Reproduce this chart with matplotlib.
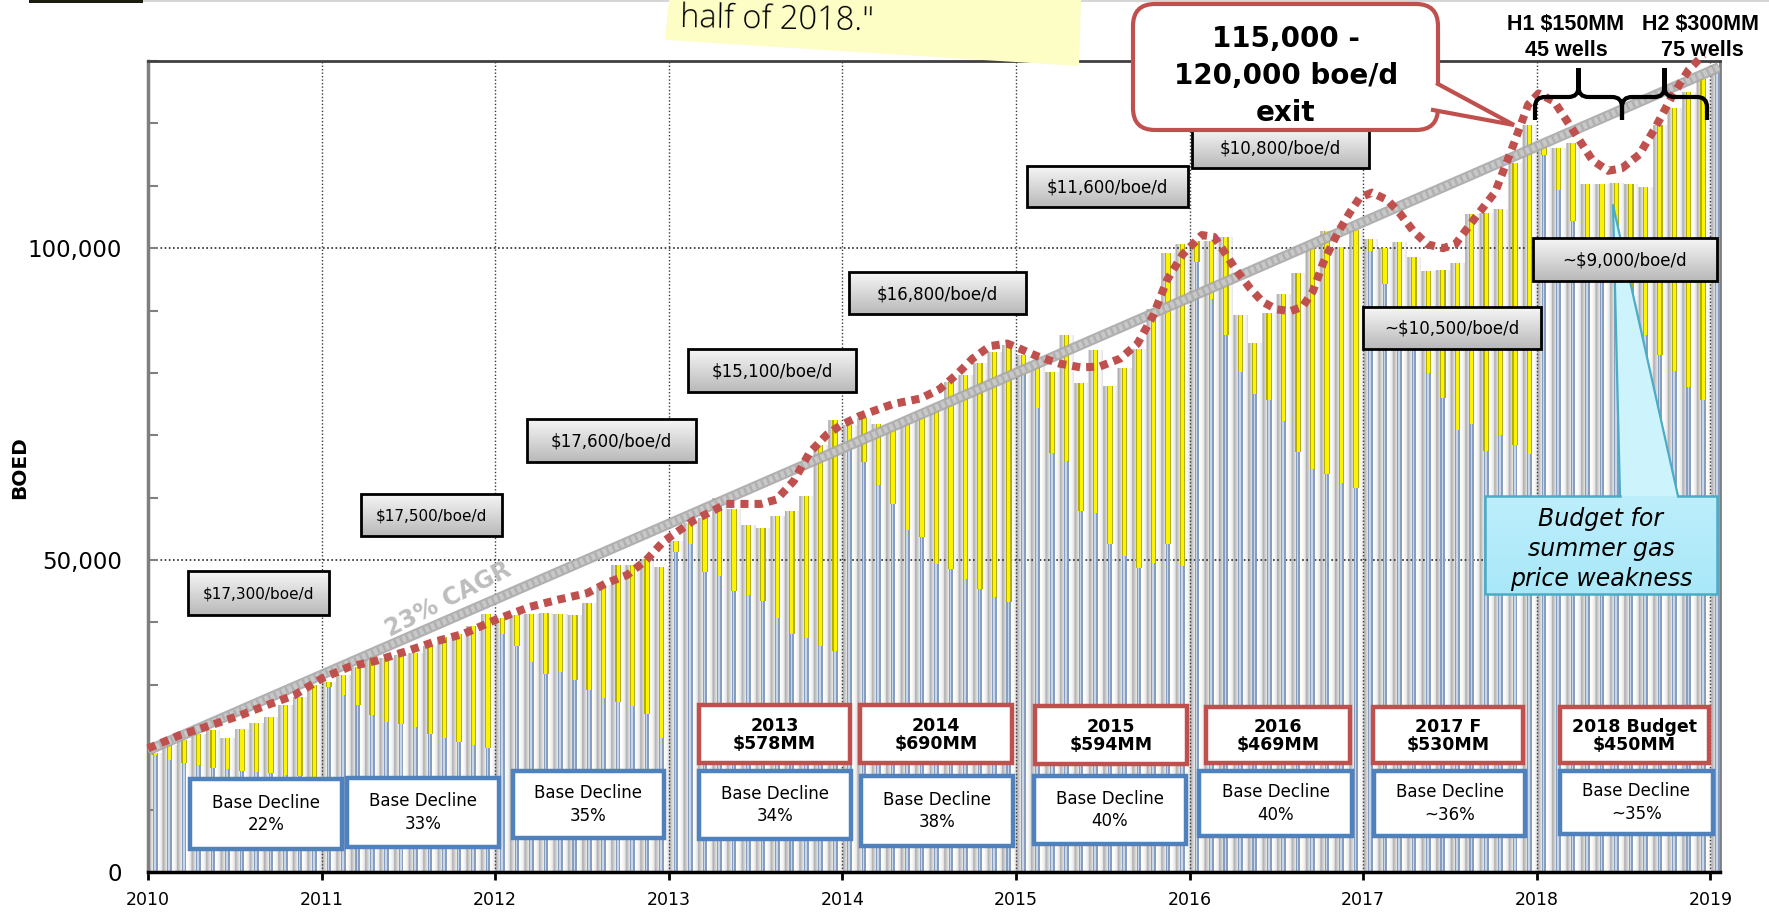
import numpy as np
import matplotlib
matplotlib.use("Agg")
import matplotlib.pyplot as plt
import matplotlib.colors as mcolors
from matplotlib.path import Path
from matplotlib.patches import Polygon, Rectangle, FancyBboxPatch, PathPatch

W, H, DPI = 1769, 914, 100

# ---------------------------------------------------------------- data
# Monthly production (boe/d), Jan 2010 ... Dec 2018, then Jan 2019
total_boed = [
    19000, 20400, 21100, 22200, 22700, 21400, 23000, 23900, 24800, 26700, 28000, 30000,       # 2010
    30400, 31500, 32900, 34600, 34300, 34800, 35100, 36200, 37700, 38200, 39500, 41400,       # 2011
    40700, 41200, 41300, 41500, 41400, 41200, 43100, 46000, 49200, 49200, 50200, 48900,       # 2012
    53100, 56000, 56700, 59900, 58200, 55600, 55100, 57100, 57800, 60300, 68500, 72500,       # 2013
    71600, 72800, 71800, 71500, 72000, 73000, 74500, 78600, 79600, 81600, 83300, 84500,       # 2014
    82800, 81500, 80100, 86000, 78400, 83700, 77900, 80800, 83900, 90300, 99200, 100700,      # 2015
    101200, 101200, 101800, 89300, 84800, 89600, 92600, 96000, 100000, 102800, 100200, 102900,  # 2016
    101400, 100000, 101000, 98600, 96300, 96500, 97600, 105500, 105600, 106200, 113700, 119700,  # 2017
    117100, 116000, 116800, 110300, 110300, 110500, 110300, 109800, 119700, 122400, 125000, 127100,  # 2018
    129000,                                                                                  # 2019
]
# Production from the wells on line at the start of each year
base_boed = [
    18700, 17900, 17500, 17100, 16700, 16500, 16200, 16000, 15800, 15500, 15400, 15200,       # 2010
    29600, 28300, 26800, 25100, 24100, 23800, 23200, 22200, 21400, 20900, 20300, 19900,       # 2011
    38200, 36300, 33700, 31800, 32100, 30800, 29200, 27900, 27300, 26600, 25400, 21500,       # 2012
    51300, 52600, 48100, 47400, 45100, 44400, 43400, 40700, 38100, 37500, 36200, 35400,       # 2013
    68800, 65800, 62100, 59000, 54900, 53700, 49300, 48500, 46900, 45300, 44100, 43300,       # 2014
    79600, 74300, 67200, 65900, 57800, 57500, 52600, 50700, 48800, 49600, 52500, 49000,       # 2015
    97800, 91800, 86000, 80200, 76600, 75600, 72300, 67300, 64600, 63800, 62300, 61600,       # 2016
    99500, 94200, 90800, 86000, 80000, 76000, 70800, 71800, 67500, 70100, 68400, 67000,       # 2017
    115000, 109400, 104300, 100500, 96500, 93500, 90000, 86000, 82900, 80300, 77800, 75600,   # 2018
    129000,                                                                                  # 2019
]

# Smoothed production trend (dotted red)
trend_year = [2010.00, 2010.18, 2010.36, 2010.53, 2010.68, 2010.84, 2011.00, 2011.16, 2011.32,
              2011.49, 2011.65, 2011.82, 2012.00, 2012.20, 2012.37, 2012.53, 2012.64, 2012.76,
              2012.87, 2012.97, 2013.14, 2013.33, 2013.53, 2013.62, 2013.72, 2013.81, 2013.91,
              2013.99, 2014.10, 2014.29, 2014.45, 2014.56, 2014.66, 2014.75, 2014.85, 2014.95,
              2015.02, 2015.12, 2015.25, 2015.37, 2015.48, 2015.60, 2015.70, 2015.79, 2015.87,
              2015.96, 2016.07, 2016.14, 2016.19, 2016.27, 2016.35, 2016.42, 2016.50, 2016.58,
              2016.65, 2016.71, 2016.77, 2016.85, 2016.92, 2016.98, 2017.05, 2017.14, 2017.21,
              2017.29, 2017.37, 2017.46, 2017.53, 2017.64, 2017.76, 2017.86, 2017.95, 2018.01,
              2018.10, 2018.22, 2018.32, 2018.41, 2018.49, 2018.59, 2018.68, 2018.78, 2018.875,
              2018.96]
trend_boed = [19800, 21900, 23500, 25100, 26700, 28300, 31000, 32900, 33900,
              35400, 36900, 38200, 40400, 42500, 43700, 44700, 46300, 47600,
              50000, 53000, 56300, 59000, 59000, 59700, 62700, 67200, 70100,
              71600, 73100, 75000, 75900, 77400, 79800, 82300, 84300, 84700,
              83900, 82700, 81500, 80900, 81000, 82300, 84700, 89200, 94900,
              99000, 102100, 101800, 99800, 96400, 93500, 91400, 90200, 89900,
              90600, 93100, 97700, 102300, 105600, 108100, 108900, 107700, 105600,
              102700, 100600, 100000, 100600, 104700, 109000, 116200, 123000, 124800,
              123500, 118400, 114100, 112400, 112800, 115000, 119200, 124400, 128600,
              131000]

# 23% CAGR reference line
cagr_year = [2010.0, 2019.05]
cagr_boed = [19500, 129000]

year_ticks = [2010, 2011, 2012, 2013, 2014, 2015, 2016, 2017, 2018, 2019]
y_ticks = [0, 50000, 100000]
y_tick_labels = ["0", "50,000", "100,000"]

price_labels = ["$17,300/boe/d", "$17,500/boe/d", "$17,600/boe/d", "$15,100/boe/d",
                "$16,800/boe/d", "$11,600/boe/d", "$10,800/boe/d", "~$10,500/boe/d",
                "~$9,000/boe/d"]
decline_labels = ["22%", "33%", "35%", "34%", "38%", "40%", "40%", "~36%", "~35%"]
capex_labels = ["2013\n$578MM", "2014\n$690MM", "2015\n$594MM", "2016\n$469MM",
                "2017 F\n$530MM", "2018 Budget\n$450MM"]

# ---------------------------------------------------------------- layout (pixels)
price_boxes = [(188, 571, 329, 615), (361, 494, 502, 536), (527, 419, 696, 462),
               (688, 349, 856, 392), (849, 272, 1026, 314), (1027, 166, 1188, 207),
               (1192, 128, 1369, 168), (1363, 307, 1541, 349), (1533, 238, 1717, 281)]
price_sizes = [11, 11, 12, 12, 12, 12, 12, 12, 12]
decline_boxes = [(190, 779, 342, 849), (347, 778, 499, 847), (513, 771, 664, 838),
                 (699, 771, 851, 839), (861, 776, 1013, 846), (1034, 776, 1186, 844),
                 (1199, 771, 1352, 836), (1374, 771, 1525, 836), (1560, 771, 1713, 834)]
capex_boxes = [(699, 705, 850, 763), (860, 705, 1012, 763), (1035, 706, 1187, 764),
               (1206, 707, 1350, 763), (1373, 707, 1523, 763), (1560, 707, 1709, 763)]

RED = "#c0504d"
BLUE = "#4f81bd"

fig = plt.figure(figsize=(W / DPI, H / DPI), dpi=DPI)
ax = fig.add_axes([148 / W, 42 / H, 1572 / W, 811 / H])

total = np.array(total_boed, dtype=float)
base = np.array(base_boed, dtype=float)
n = len(total)
slot = 1 / 12
xc = 2010 + (np.arange(n) + 0.5) * slot
x_end = 2010 + n * slot
YMAX = 130000

# cylinder-shaded background columns, one per month, as tall as the month's total
res = 5000
xs = np.linspace(2010, x_end, res)
u = ((xs - 2010) / slot) % 1.0
g = 0.64 + 0.36 * np.clip(1 - ((u - 0.62) / 0.62) ** 2, 0, 1)
rgb = np.stack([g, g, g], axis=-1)[None, :, :]
im = ax.imshow(rgb, extent=(2010, x_end, 0, YMAX), aspect="auto",
               interpolation="bilinear", zorder=1)
verts, codes = [], []
for x, t in zip(xc, total):
    x0, x1 = x - 0.5 * slot, x + 0.5 * slot
    verts += [(x0, 0), (x1, 0), (x1, t), (x0, t), (x0, 0)]
    codes += [Path.MOVETO, Path.LINETO, Path.LINETO, Path.LINETO, Path.CLOSEPOLY]
im.set_clip_path(Path(verts, codes), ax.transData)

# dotted grid
for yr in year_ticks[1:]:
    ax.axvline(yr, color="#3a3a3a", lw=1, ls=(0, (1, 1.5)), zorder=1.5)
for v in y_ticks[1:]:
    ax.axhline(v, color="#2a2a2a", lw=1.2, ls=(0, (1, 1.5)), zorder=1.5)

# base production (blue) and new wells (yellow)
new = total - base
ax.bar(xc, base, width=0.32 * slot, color="#869ec1", zorder=3)
ax.bar(xc - 0.03 * slot, base, width=0.11 * slot, color="#c9d6e8", zorder=3.1)
ax.bar(xc, new, bottom=base, width=0.38 * slot, color="#b5ad00", zorder=3)
ax.bar(xc, new, bottom=base, width=0.22 * slot, color="#fbf400", zorder=3.1)

# CAGR band
ax.plot(cagr_year, cagr_boed, color="#a8a8a8", lw=7.5, solid_capstyle="butt",
        alpha=0.9, zorder=4)
ax.plot(cagr_year, cagr_boed, color="#cacaca", lw=4.5, solid_capstyle="butt",
        alpha=0.95, zorder=4.1)
ax.plot(cagr_year, cagr_boed, color="#9a9a9a", lw=4.5, ls=(0, (0.4, 0.6)),
        alpha=0.5, zorder=4.2)
ax.text(2011.73, 43700, "23% CAGR", rotation=27, rotation_mode="anchor",
        ha="center", va="center", fontsize=17, fontweight="bold", color="#bdbdbd",
        zorder=4.5)

# production trend
ax.plot(trend_year, trend_boed, color=RED, lw=5.8, ls=(0, (1, 0.75)),
        dash_capstyle="butt", clip_on=False, zorder=6)

ax.set_xlim(2010, 2019.055)
ax.set_ylim(0, YMAX)
ax.set_xticks(year_ticks)
ax.set_xticklabels([str(y) for y in year_ticks], fontsize=12.5)
ax.set_yticks(y_ticks)
ax.set_yticklabels(y_tick_labels, fontsize=16.5)
ax.set_yticks(np.arange(0, YMAX + 1, 10000), minor=True)
ax.tick_params(axis="x", direction="out", length=6, width=2, color="black", pad=8)
ax.tick_params(axis="y", which="both", direction="in", length=7, width=1.5,
               color="#808080", pad=19)
ax.spines["bottom"].set(color="black", lw=2.5, zorder=7)
ax.spines["left"].set(color="#7f7f7f", lw=2.5)
ax.spines["top"].set(color="#404040", lw=2)
ax.spines["right"].set(color="#7f7f7f", lw=2)

fig.text(20 / W, 1 - 468 / H, "BOED", rotation=90, ha="center", va="center",
         fontsize=14.5, fontweight="bold")

# ---------------------------------------------------------------- annotation layer
ov = fig.add_axes([0, 0, 1, 1], zorder=5)
ov.axis("off")


def gradient_fill(x0, y0, x1, y1, c_top, c_bot, z):
    t = np.linspace(0, 1, 64)[:, None, None]
    top = np.array(mcolors.to_rgb(c_top))[None, None, :]
    bot = np.array(mcolors.to_rgb(c_bot))[None, None, :]
    arr = top * (1 - t) + bot * t
    return ov.imshow(arr, extent=(x0, x1, y1, y0), origin="upper", aspect="auto",
                     interpolation="bilinear", zorder=z)


# header bits
ov.add_patch(Rectangle((29, 0), 114, 3, fc="#1c1c10", ec="none", zorder=1))
ov.add_patch(Rectangle((143, 0), W - 143, 1.6, fc="#d6d6d6", ec="none", zorder=1))

# sticky note
ov.add_patch(Polygon([(669, 0), (1081, 0), (1079, 66), (665, 40)], closed=True,
                     fc="#fdfdc6", ec="none", zorder=2))
ov.text(680, 30, 'half of 2018."', fontsize=23.5, family=["Open Sans", "DejaVu Sans"],
        fontweight="light", va="baseline", ha="left", rotation=-1, zorder=2.1)

# cyan callout (under the price labels)
cy_edge = "#4bacc6"
ov.add_patch(Polygon([(1620, 497), (1613, 205), (1678, 497)], closed=True,
                     fc="#cdf3fd", ec="none", zorder=3))
gradient_fill(1485, 496, 1717, 594, "#bdeefb", "#a9e8f9", 3)
ov.plot([1620, 1485, 1485, 1717, 1717, 1678], [496, 496, 594, 594, 496, 496],
        color=cy_edge, lw=1.8, zorder=3.2)
ov.plot([1620, 1613, 1678], [496, 205, 496], color=cy_edge, lw=1.6, zorder=3.2)
ov.text(1601, 549, "Budget for\nsummer gas\nprice weakness", ha="center", va="center",
        fontsize=17, style="italic", linespacing=1.3, zorder=3.3)

# price-per-flowing-barrel labels
for txt, fs, (x0, y0, x1, y1) in zip(price_labels, price_sizes, price_boxes):
    gradient_fill(x0, y0, x1, y1, "#f6f6f6", "#b9b9b9", 4)
    ov.add_patch(Rectangle((x0, y0), x1 - x0, y1 - y0, fill=False, ec="black",
                           lw=2, zorder=4.1))
    ov.text((x0 + x1) / 2, (y0 + y1) / 2 + 1, txt, ha="center", va="center",
            fontsize=fs, zorder=4.2)

# base decline boxes
for txt, (x0, y0, x1, y1) in zip(decline_labels, decline_boxes):
    ov.add_patch(Rectangle((x0, y0), x1 - x0, y1 - y0, fc="white", ec=BLUE,
                           lw=3.2, zorder=4))
    ov.text((x0 + x1) / 2, (y0 + y1) / 2, "Base Decline\n" + txt, ha="center",
            va="center", fontsize=12, linespacing=1.35, zorder=4.1)

# capex boxes
for txt, (x0, y0, x1, y1) in zip(capex_labels, capex_boxes):
    ov.add_patch(Rectangle((x0, y0), x1 - x0, y1 - y0, fc="white", ec=RED,
                           lw=3.2, zorder=4))
    ov.text((x0 + x1) / 2, (y0 + y1) / 2 + 1, txt, ha="center", va="center",
            fontsize=12.5, fontweight="bold", linespacing=1.0, zorder=4.1)

# exit-rate callout
ov.add_patch(FancyBboxPatch((1133, 4), 305, 126,
                            boxstyle="round,pad=0,rounding_size=22",
                            fc="white", ec=RED, lw=3, zorder=6))
ov.add_patch(Polygon([(1422, 84), (1438, 84), (1514, 125), (1433, 110), (1422, 110)],
                     closed=True, fc="white", ec="none", zorder=6.1))
ov.plot([1438, 1514, 1433], [84, 125, 110], color=RED, lw=3, zorder=6.2,
        solid_joinstyle="miter")
ov.text(1286, 76, "115,000 -\n120,000 boe/d\nexit", ha="center", va="center",
        fontsize=20, fontweight="bold", linespacing=1.42, zorder=6.3)


# half-year program braces
def brace(x0, x1, y_end=120, y_bar=97, y_tip=68, r=10):
    xm = (x0 + x1) / 2
    v = [(x0, y_end), (x0, y_bar + r), (x0, y_bar), (x0 + r, y_bar), (xm - r, y_bar),
         (xm, y_bar), (xm, y_bar - r), (xm, y_tip),
         (xm, y_tip), (xm, y_bar - r), (xm, y_bar), (xm + r, y_bar), (x1 - r, y_bar),
         (x1, y_bar), (x1, y_bar + r), (x1, y_end)]
    c = [Path.MOVETO, Path.LINETO, Path.CURVE3, Path.CURVE3, Path.LINETO,
         Path.CURVE3, Path.CURVE3, Path.LINETO,
         Path.MOVETO, Path.LINETO, Path.CURVE3, Path.CURVE3, Path.LINETO,
         Path.CURVE3, Path.CURVE3, Path.LINETO]
    ov.add_patch(PathPatch(Path(v, c), fc="none", ec="black", lw=3, zorder=7))


brace(1535, 1622)
brace(1622, 1707)
hfont = dict(family=["Liberation Sans", "DejaVu Sans"], fontweight="bold",
             fontsize=15.5, ha="center", va="center", zorder=7.1)
ov.text(1566, 25, "H1 $150MM", **hfont)
ov.text(1566, 50, "45 wells", **hfont)
ov.text(1700, 25, "H2 $300MM", **hfont)
ov.text(1702, 50, "75 wells", **hfont)

ov.set_xlim(0, W)
ov.set_ylim(H, 0)

fig.savefig("out.png", dpi=DPI)
